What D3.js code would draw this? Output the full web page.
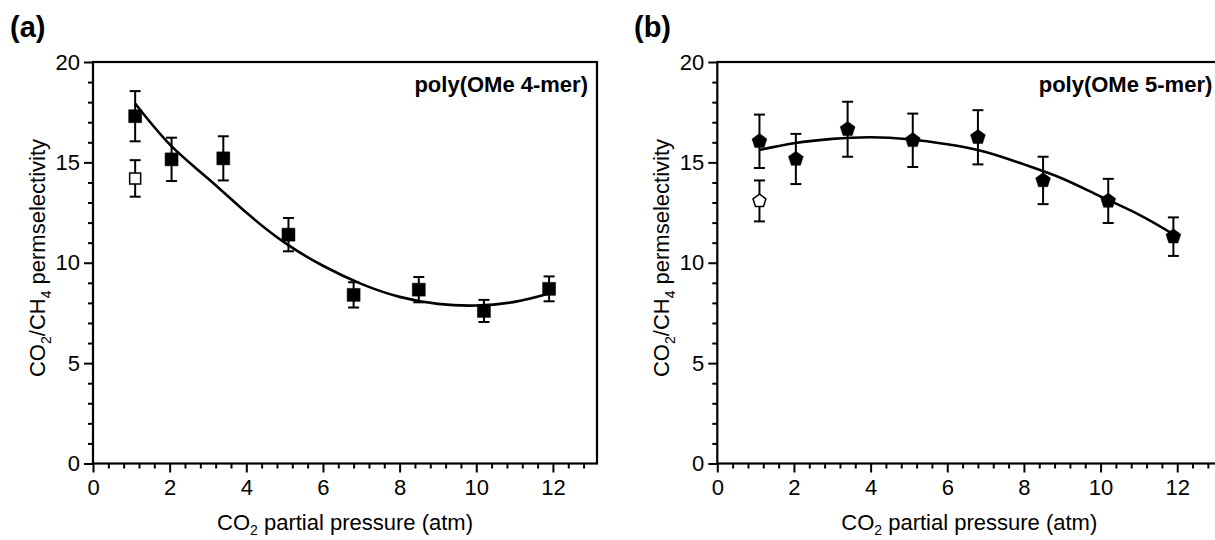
<!DOCTYPE html>
<html>
<head>
<meta charset="utf-8">
<script src="https://cdn.jsdelivr.net/npm/d3@7"></script>
<style>
  body { margin: 0; background: #fff; }
  svg text { font-family: "Liberation Sans", Arial, sans-serif; fill: #000; }
</style>
</head>
<body>
<div id="content"></div>
<script>
// ---- data ----
var pressure = [1.1, 2.05, 3.4, 5.1, 6.8, 8.5, 10.2, 11.9];

// (a) poly(OMe 4-mer)
var selectA = [17.3, 15.15, 15.2, 11.4, 8.4, 8.66, 7.6, 8.7];
var errA = [1.25, 1.08, 1.1, 0.83, 0.63, 0.63, 0.55, 0.62];
var openA = {x: 1.1, y: 14.2, err: 0.91};
var fitXA = [1.1, 2, 3, 4, 5, 6, 7, 8, 9, 10, 11, 11.9];
var fitYA = [17.93, 15.9, 14.2, 12.5, 11.0, 9.85, 8.95, 8.3, 7.95, 7.87, 8.05, 8.47];

// (b) poly(OMe 5-mer)
var selectB = [16.05, 15.17, 16.65, 16.1, 16.25, 14.1, 13.08, 11.3];
var errB = [1.33, 1.25, 1.37, 1.33, 1.35, 1.18, 1.1, 0.96];
var openB = {x: 1.1, y: 13.08, err: 1.02};
var fitXB = [1.1, 2, 3, 4, 5, 6, 7, 8, 9, 10, 11, 11.9];
var fitYB = [15.62, 15.95, 16.17, 16.25, 16.15, 15.9, 15.52, 14.9, 14.2, 13.3, 12.4, 11.42];

var xTicks = [0, 2, 4, 6, 8, 10, 12];
var yTicks = [0, 5, 10, 15, 20];

var W = 1215, H = 540;
var svg = d3.select('#content').append('svg')
    .attr('width', W).attr('height', H);

// pentagon symbol (point up)
var pentagon = {
  draw: function(context, r) {
    for (var i = 0; i < 5; i++) {
      var a = -Math.PI / 2 + i * 2 * Math.PI / 5;
      var px = r * Math.cos(a), py = r * Math.sin(a);
      if (i === 0) context.moveTo(px, py); else context.lineTo(px, py);
    }
    context.closePath();
  }
};
var square = {
  draw: function(context, r) { context.rect(-r, -r, 2 * r, 2 * r); }
};

function drawPanel(opt) {
  var top = 62, bottom = 463.5, left = opt.left, width = 504;

  var x = d3.scaleLinear().domain([0, 13.15]).range([left, left + width]);
  var y = d3.scaleLinear().domain([0, 20]).range([bottom, top]);

  var g = svg.append('g');

  // minor ticks
  g.append('g')
      .attr('transform', 'translate(0,' + bottom + ')')
      .call(d3.axisBottom(x).tickValues(d3.range(0.4, 13.15, 0.4).filter(function(v) {
        return Math.abs(v / 2 - Math.round(v / 2)) > 0.01; })).tickSize(5).tickFormat(''))
      .call(function(s) { s.select('.domain').remove(); s.selectAll('line').attr('stroke-width', 2); });
  g.append('g')
      .attr('transform', 'translate(' + left + ',0)')
      .call(d3.axisLeft(y).tickValues(d3.range(1, 20, 1).filter(function(v) { return v % 5 !== 0; }))
        .tickSize(5).tickFormat(''))
      .call(function(s) { s.select('.domain').remove(); s.selectAll('line').attr('stroke-width', 2); });

  // major ticks + labels
  g.append('g')
      .attr('transform', 'translate(0,' + bottom + ')')
      .call(d3.axisBottom(x).tickValues(xTicks).tickSize(9).tickPadding(7))
      .call(function(s) {
        s.select('.domain').remove();
        s.selectAll('line').attr('stroke-width', 2);
        s.selectAll('text').attr('font-size', 22).attr('font-family', '"Liberation Sans", Arial, sans-serif');
      });
  g.append('g')
      .attr('transform', 'translate(' + left + ',0)')
      .call(d3.axisLeft(y).tickValues(yTicks).tickSize(9).tickPadding(4))
      .call(function(s) {
        s.select('.domain').remove();
        s.selectAll('line').attr('stroke-width', 2);
        s.selectAll('text').attr('font-size', 22).attr('font-family', '"Liberation Sans", Arial, sans-serif');
      });

  // frame
  g.append('rect')
      .attr('x', left).attr('y', top)
      .attr('width', width).attr('height', bottom - top)
      .attr('fill', 'none').attr('stroke', '#000').attr('stroke-width', 2.2);

  // fit line
  var line = d3.line()
      .x(function(d, i) { return x(opt.fitX[i]); })
      .y(function(d) { return y(d); })
      .curve(d3.curveNatural);
  g.append('path')
      .datum(opt.fitY)
      .attr('fill', 'none').attr('stroke', '#000').attr('stroke-width', 2.6)
      .attr('d', line);

  // error bars
  var pts = opt.vals.map(function(v, i) { return {x: pressure[i], y: v, err: opt.errs[i], open: false}; });
  pts.unshift({x: opt.open.x, y: opt.open.y, err: opt.open.err, open: true});
  var eb = g.append('g').attr('stroke', '#000').attr('stroke-width', 2);
  pts.forEach(function(d) {
    var cx = x(d.x);
    eb.append('line').attr('x1', cx).attr('x2', cx).attr('y1', y(d.y + d.err)).attr('y2', y(d.y - d.err));
    eb.append('line').attr('x1', cx - 5.5).attr('x2', cx + 5.5).attr('y1', y(d.y + d.err)).attr('y2', y(d.y + d.err));
    eb.append('line').attr('x1', cx - 5.5).attr('x2', cx + 5.5).attr('y1', y(d.y - d.err)).attr('y2', y(d.y - d.err));
  });

  // markers
  var sym = d3.symbol().type(opt.shape).size(opt.size);
  g.selectAll('.pt').data(pts).enter().append('path')
      .attr('transform', function(d) { return 'translate(' + x(d.x) + ',' + y(d.y) + ')'; })
      .attr('d', function(d) { return d.open ? d3.symbol().type(opt.shape).size(opt.size - 1)() : sym(); })
      .attr('fill', function(d) { return d.open ? '#fff' : '#000'; })
      .attr('stroke', '#000').attr('stroke-width', function(d) { return d.open ? 1.5 : 0.5; });

  // annotation
  g.append('text')
      .attr('x', left + width - 9).attr('y', 92)
      .attr('text-anchor', 'end').attr('font-size', 22).attr('font-weight', 'bold')
      .text(opt.name);

  // panel label
  g.append('text')
      .attr('x', opt.labelX).attr('y', 37)
      .attr('font-size', 29).attr('font-weight', 'bold')
      .text(opt.label);

  // x axis title
  var xt = g.append('text')
      .attr('x', left + width / 2).attr('y', 530)
      .attr('text-anchor', 'middle').attr('font-size', 22);
  xt.append('tspan').text('CO');
  xt.append('tspan').attr('font-size', 14).attr('dy', 5).text('2');
  xt.append('tspan').attr('dy', -5).text(' partial pressure (atm)');

  // y axis title
  var yt = g.append('text')
      .attr('transform', 'translate(' + (left - 48) + ',' + 258 + ') rotate(-90)')
      .attr('text-anchor', 'middle').attr('font-size', 22);
  yt.append('tspan').text('CO');
  yt.append('tspan').attr('font-size', 14).attr('dy', 6).text('2');
  yt.append('tspan').attr('dy', -6).text('/CH');
  yt.append('tspan').attr('font-size', 14).attr('dy', 6).text('4');
  yt.append('tspan').attr('dy', -6).text(' permselectivity');
}

drawPanel({left: 93, vals: selectA, errs: errA, open: openA, fitX: fitXA, fitY: fitYA,
  shape: square, size: 6.5, name: 'poly(OMe 4-mer)', label: '(a)', labelX: 10});
drawPanel({left: 717.3, vals: selectB, errs: errB, open: openB, fitX: fitXB, fitY: fitYB,
  shape: pentagon, size: 7.8, name: 'poly(OMe 5-mer)', label: '(b)', labelX: 634});
</script>
</body>
</html>
